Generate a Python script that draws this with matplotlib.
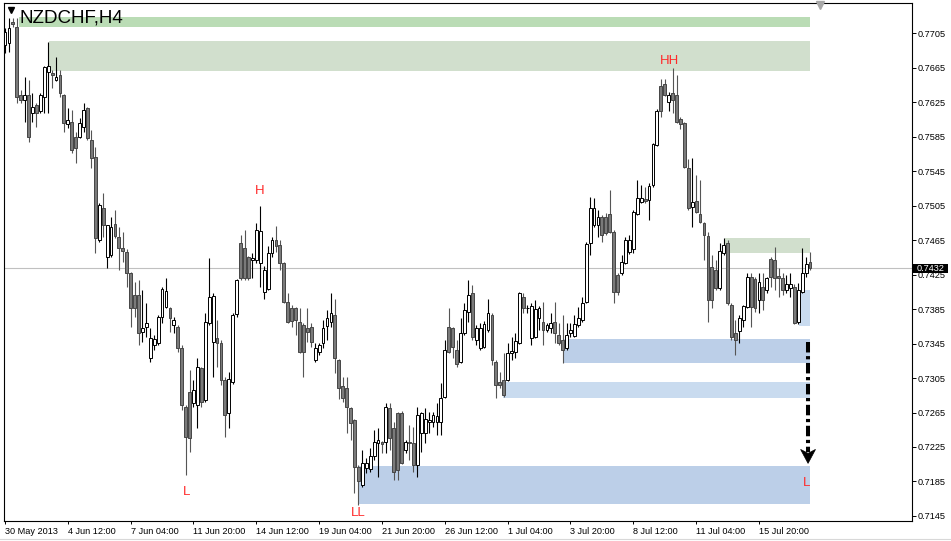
import numpy as np
import matplotlib
matplotlib.use('Agg')
from matplotlib import pyplot as plt
from matplotlib.patches import Rectangle, Polygon
import matplotlib.transforms as mtransforms

# NZDCHF H4 candles (index 0 = 30 May 2013)
opens = [
    0.7691, 0.7694, 0.7718, 0.7712, 0.7633, 0.7627, 0.7633, 0.7612, 0.7622, 0.7614,
    0.7631, 0.7660, 0.7659, 0.7650, 0.7656, 0.7633, 0.7600, 0.7602, 0.7585, 0.7585,
    0.7596, 0.7618, 0.7581, 0.7561, 0.7465, 0.7502, 0.7445, 0.7448, 0.7484, 0.7469,
    0.7456, 0.7451, 0.7427, 0.7401, 0.7401, 0.7358, 0.7364, 0.7328, 0.7343, 0.7346,
    0.7376, 0.7387, 0.7386, 0.7367, 0.7364, 0.7340, 0.7271, 0.7289, 0.7276, 0.7274,
    0.7317, 0.7280, 0.7369, 0.7347, 0.7351, 0.7346, 0.7303, 0.7264, 0.7300, 0.7379,
    0.7462, 0.7456, 0.7445, 0.7442, 0.7442, 0.7438, 0.7405, 0.7408, 0.7450, 0.7465,
    0.7459, 0.7438, 0.7393, 0.7386, 0.7386, 0.7370, 0.7367, 0.7363, 0.7364, 0.7326,
    0.7335, 0.7346, 0.7365, 0.7370, 0.7378, 0.7326, 0.7296, 0.7293, 0.7270, 0.7256,
    0.7202, 0.7181, 0.7201, 0.7200, 0.7214, 0.7230, 0.7231, 0.7231, 0.7270, 0.7247,
    0.7264, 0.7264, 0.7222, 0.7231, 0.7230, 0.7204, 0.7241, 0.7241, 0.7254, 0.7254,
    0.7254, 0.7254, 0.7283, 0.7364, 0.7363, 0.7338, 0.7324, 0.7357, 0.7382, 0.7404,
    0.7349, 0.7340, 0.7341, 0.7361, 0.7378, 0.7324, 0.7300, 0.7303, 0.7303, 0.7334,
    0.7335, 0.7346, 0.7399, 0.7386, 0.7351, 0.7353, 0.7374, 0.7370, 0.7361, 0.7363,
    0.7370, 0.7355, 0.7349, 0.7340, 0.7357, 0.7354, 0.7367, 0.7372, 0.7393, 0.7462,
    0.7482, 0.7482, 0.7492, 0.7492, 0.7495, 0.7474, 0.7424, 0.7427, 0.7438, 0.7451,
    0.7454, 0.7495, 0.7509, 0.7513, 0.7511, 0.7529, 0.7575, 0.7644, 0.7646, 0.7625,
    0.7636, 0.7633, 0.7605, 0.7601, 0.7549, 0.7503, 0.7510, 0.7495, 0.7485, 0.7470,
    0.7434, 0.7430, 0.7409, 0.7450, 0.7462, 0.7390, 0.7357, 0.7360, 0.7372, 0.7387,
    0.7422, 0.7420, 0.7396, 0.7411, 0.7407, 0.7443, 0.7442, 0.7423, 0.7421, 0.7407,
    0.7409, 0.7411, 0.7370, 0.7405, 0.7427, 0.7440,
]
highs = [
    0.7711, 0.7722, 0.7722, 0.7722, 0.7639, 0.7654, 0.7651, 0.7636, 0.7624, 0.7636,
    0.7667, 0.7695, 0.7662, 0.7677, 0.7662, 0.7634, 0.7618, 0.7616, 0.7590, 0.7607,
    0.7624, 0.7619, 0.7593, 0.7573, 0.7508, 0.7520, 0.7482, 0.7492, 0.7500, 0.7480,
    0.7474, 0.7454, 0.7428, 0.7416, 0.7419, 0.7407, 0.7392, 0.7363, 0.7355, 0.7378,
    0.7411, 0.7421, 0.7387, 0.7376, 0.7367, 0.7343, 0.7274, 0.7314, 0.7303, 0.7328,
    0.7318, 0.7380, 0.7444, 0.7404, 0.7372, 0.7349, 0.7306, 0.7312, 0.7380, 0.7420,
    0.7471, 0.7477, 0.7446, 0.7450, 0.7485, 0.7504, 0.7435, 0.7458, 0.7469, 0.7481,
    0.7465, 0.7439, 0.7404, 0.7390, 0.7387, 0.7386, 0.7369, 0.7386, 0.7369, 0.7346,
    0.7346, 0.7372, 0.7384, 0.7404, 0.7397, 0.7327, 0.7306, 0.7306, 0.7271, 0.7258,
    0.7204, 0.7222, 0.7212, 0.7224, 0.7245, 0.7247, 0.7232, 0.7276, 0.7276, 0.7254,
    0.7266, 0.7267, 0.7233, 0.7251, 0.7248, 0.7271, 0.7266, 0.7270, 0.7266, 0.7266,
    0.7276, 0.7299, 0.7349, 0.7386, 0.7364, 0.7349, 0.7375, 0.7392, 0.7419, 0.7413,
    0.7367, 0.7369, 0.7371, 0.7397, 0.7380, 0.7326, 0.7312, 0.7334, 0.7346, 0.7353,
    0.7357, 0.7405, 0.7404, 0.7390, 0.7392, 0.7396, 0.7389, 0.7393, 0.7369, 0.7380,
    0.7393, 0.7369, 0.7378, 0.7369, 0.7369, 0.7378, 0.7387, 0.7399, 0.7463, 0.7515,
    0.7514, 0.7500, 0.7494, 0.7496, 0.7523, 0.7477, 0.7427, 0.7448, 0.7469, 0.7471,
    0.7500, 0.7535, 0.7529, 0.7527, 0.7531, 0.7578, 0.7617, 0.7652, 0.7652, 0.7637,
    0.7664, 0.7656, 0.7608, 0.7602, 0.7559, 0.7560, 0.7540, 0.7535, 0.7486, 0.7474,
    0.7448, 0.7442, 0.7462, 0.7467, 0.7465, 0.7392, 0.7372, 0.7378, 0.7390, 0.7427,
    0.7427, 0.7422, 0.7427, 0.7427, 0.7422, 0.7445, 0.7457, 0.7433, 0.7427, 0.7424,
    0.7427, 0.7414, 0.7415, 0.7456, 0.7445, 0.7451,
]
lows = [
    0.7682, 0.7683, 0.7712, 0.7624, 0.7624, 0.7602, 0.7579, 0.7602, 0.7596, 0.7612,
    0.7612, 0.7612, 0.7641, 0.7649, 0.7631, 0.7590, 0.7595, 0.7566, 0.7554, 0.7583,
    0.7590, 0.7581, 0.7549, 0.7450, 0.7463, 0.7469, 0.7433, 0.7445, 0.7467, 0.7430,
    0.7440, 0.7411, 0.7364, 0.7376, 0.7343, 0.7347, 0.7353, 0.7324, 0.7338, 0.7343,
    0.7369, 0.7386, 0.7358, 0.7357, 0.7335, 0.7268, 0.7193, 0.7219, 0.7271, 0.7247,
    0.7271, 0.7277, 0.7367, 0.7306, 0.7318, 0.7297, 0.7237, 0.7247, 0.7298, 0.7376,
    0.7419, 0.7419, 0.7419, 0.7421, 0.7438, 0.7411, 0.7397, 0.7407, 0.7445, 0.7451,
    0.7430, 0.7392, 0.7369, 0.7364, 0.7355, 0.7334, 0.7306, 0.7347, 0.7341, 0.7324,
    0.7332, 0.7340, 0.7349, 0.7364, 0.7311, 0.7281, 0.7277, 0.7241, 0.7233, 0.7172,
    0.7158, 0.7179, 0.7195, 0.7196, 0.7210, 0.7190, 0.7218, 0.7218, 0.7222, 0.7187,
    0.7187, 0.7205, 0.7218, 0.7210, 0.7196, 0.7190, 0.7219, 0.7230, 0.7241, 0.7248,
    0.7239, 0.7239, 0.7282, 0.7334, 0.7328, 0.7318, 0.7322, 0.7355, 0.7370, 0.7349,
    0.7343, 0.7338, 0.7340, 0.7358, 0.7320, 0.7282, 0.7293, 0.7283, 0.7302, 0.7326,
    0.7328, 0.7345, 0.7380, 0.7380, 0.7343, 0.7351, 0.7361, 0.7343, 0.7358, 0.7357,
    0.7346, 0.7343, 0.7322, 0.7338, 0.7353, 0.7353, 0.7364, 0.7370, 0.7392, 0.7448,
    0.7480, 0.7469, 0.7463, 0.7471, 0.7473, 0.7392, 0.7401, 0.7424, 0.7437, 0.7449,
    0.7450, 0.7494, 0.7508, 0.7508, 0.7488, 0.7527, 0.7574, 0.7608, 0.7632, 0.7614,
    0.7612, 0.7601, 0.7594, 0.7549, 0.7500, 0.7480, 0.7496, 0.7485, 0.7442, 0.7370,
    0.7386, 0.7407, 0.7407, 0.7448, 0.7390, 0.7349, 0.7332, 0.7346, 0.7364, 0.7386,
    0.7364, 0.7382, 0.7380, 0.7384, 0.7404, 0.7411, 0.7407, 0.7399, 0.7401, 0.7404,
    0.7399, 0.7368, 0.7368, 0.7404, 0.7422, 0.7430,
]
closes = [
    0.7706, 0.7711, 0.7716, 0.7631, 0.7627, 0.7633, 0.7585, 0.7619, 0.7612, 0.7633,
    0.7666, 0.7667, 0.7656, 0.7654, 0.7636, 0.7601, 0.7604, 0.7569, 0.7572, 0.7601,
    0.7616, 0.7583, 0.7560, 0.7467, 0.7506, 0.7482, 0.7482, 0.7480, 0.7470, 0.7456,
    0.7452, 0.7427, 0.7386, 0.7386, 0.7357, 0.7363, 0.7369, 0.7351, 0.7350, 0.7376,
    0.7408, 0.7406, 0.7375, 0.7372, 0.7340, 0.7274, 0.7237, 0.7236, 0.7291, 0.7318,
    0.7277, 0.7370, 0.7399, 0.7400, 0.7346, 0.7303, 0.7262, 0.7304, 0.7378, 0.7419,
    0.7421, 0.7421, 0.7421, 0.7444, 0.7477, 0.7475, 0.7430, 0.7450, 0.7465, 0.7458,
    0.7438, 0.7393, 0.7370, 0.7371, 0.7372, 0.7335, 0.7335, 0.7358, 0.7347, 0.7340,
    0.7343, 0.7363, 0.7374, 0.7380, 0.7328, 0.7293, 0.7282, 0.7271, 0.7253, 0.7202,
    0.7185, 0.7207, 0.7207, 0.7214, 0.7231, 0.7233, 0.7229, 0.7271, 0.7236, 0.7196,
    0.7198, 0.7207, 0.7231, 0.7230, 0.7204, 0.7262, 0.7264, 0.7258, 0.7256, 0.7262,
    0.7261, 0.7282, 0.7338, 0.7335, 0.7341, 0.7321, 0.7357, 0.7384, 0.7401, 0.7353,
    0.7363, 0.7363, 0.7368, 0.7380, 0.7326, 0.7297, 0.7297, 0.7285, 0.7334, 0.7336,
    0.7348, 0.7403, 0.7386, 0.7386, 0.7389, 0.7385, 0.7386, 0.7361, 0.7367, 0.7369,
    0.7357, 0.7346, 0.7338, 0.7355, 0.7361, 0.7368, 0.7374, 0.7392, 0.7460, 0.7502,
    0.7502, 0.7492, 0.7471, 0.7473, 0.7474, 0.7405, 0.7405, 0.7440, 0.7465, 0.7465,
    0.7497, 0.7514, 0.7514, 0.7510, 0.7528, 0.7576, 0.7615, 0.7614, 0.7633, 0.7633,
    0.7627, 0.7602, 0.7600, 0.7550, 0.7502, 0.7509, 0.7497, 0.7486, 0.7471, 0.7396,
    0.7396, 0.7409, 0.7452, 0.7459, 0.7392, 0.7353, 0.7349, 0.7374, 0.7389, 0.7422,
    0.7387, 0.7386, 0.7416, 0.7396, 0.7421, 0.7422, 0.7421, 0.7421, 0.7407, 0.7414,
    0.7414, 0.7369, 0.7407, 0.7427, 0.7437, 0.7432,
]

time_labels = ['30 May 2013', '4 Jun 12:00', '7 Jun 04:00', '11 Jun 20:00',
               '14 Jun 12:00', '19 Jun 04:00', '21 Jun 20:00', '26 Jun 12:00',
               '1 Jul 04:00', '3 Jul 20:00', '8 Jul 12:00', '11 Jul 04:00',
               '15 Jul 20:00']
bars_per_label = 16

price_ticks = [0.7145, 0.7185, 0.7225, 0.7265, 0.7305, 0.7345, 0.7385, 0.7425,
               0.7465, 0.7505, 0.7545, 0.7585, 0.7625, 0.7665, 0.7705]

# supply (green) / demand (blue) zones: start bar, price range
zone_start = [3.6, 11.2, 183.3, 89.9, 142.1, 126.8, 202.2]
zone_end = 205.1
zone_low = [0.7712, 0.7661, 0.7450, 0.7159, 0.7322, 0.7282, 0.7365]
zone_high = [0.7724, 0.7696, 0.7467, 0.7203, 0.7350, 0.7300, 0.7407]
zone_colors = ['#badcb5', '#d1dfcd', '#d1dfcd', '#bccfe8', '#bccfe8',
               '#c9dbef', '#c9dbef']

swing_text = ['HH', 'H', 'L', 'LL', 'L']
swing_bar = [169.1, 64.9, 46.3, 89.9, 204.0]
swing_price = [0.76725, 0.7522, 0.7173, 0.71485, 0.7183]

last_price = 0.7432
arrow_bar = 204.5
arrow_from = 0.7347
arrow_to = 0.7206

plt.rcParams['font.family'] = ['Liberation Sans', 'DejaVu Sans']

W, H = 951, 541
fig = plt.figure(figsize=(W / 100, H / 100), dpi=100)
ax = fig.add_axes([4 / W, 20 / H, 908 / W, 518 / H])

o = np.array(opens)
hi = np.array(highs)
lo = np.array(lows)
c = np.array(closes)
x = np.arange(len(o))
up = c >= o

# zones sit behind everything
for x0, zl, zh, col in zip(zone_start, zone_low, zone_high, zone_colors):
    ax.add_patch(Rectangle((x0, zl), zone_end - x0, zh - zl, facecolor=col,
                           edgecolor='none', zorder=1))

ax.axhline(last_price, color='#c0c0c0', lw=0.8, zorder=1.5)

# candles: wicks first, bodies on top
ax.vlines(x[up], lo[up], hi[up], color='black', lw=0.8, zorder=3)
ax.vlines(x[~up], lo[~up], hi[~up], color='#555555', lw=0.8, zorder=3)
ax.bar(x[up], c[up] - o[up], bottom=o[up], width=0.72, color='white',
       edgecolor='black', linewidth=0.7, zorder=4)
ax.bar(x[~up], o[~up] - c[~up], bottom=c[~up], width=0.72, color='#7a7a7a',
       edgecolor='#454545', linewidth=0.7, zorder=4)

for txt, bx, py in zip(swing_text, swing_bar, swing_price):
    ax.text(bx, py, txt, color='#ff2a2a', fontsize=9.5, ha='center',
            va='center', zorder=6)

# projected move: dash-dot shaft plus filled head
head_len = 0.00162
ax.plot([arrow_bar, arrow_bar], [arrow_from, arrow_to + head_len * 0.8],
        color='black', lw=2.9, linestyle=(0, (2.6, 0.9, 0.8, 0.9)),
        solid_capstyle='butt', dash_capstyle='butt', zorder=6)
ax.add_patch(Polygon([(arrow_bar - 1.9, arrow_to + head_len),
                      (arrow_bar, arrow_to + head_len * 0.72),
                      (arrow_bar + 1.9, arrow_to + head_len),
                      (arrow_bar, arrow_to)],
                     closed=True, facecolor='black', edgecolor='black',
                     lw=0.5, zorder=6))

ax.set_xlim(-0.255, 230.97)
ax.set_ylim(0.71392, 0.77398)

ax.set_xticks(np.arange(len(time_labels)) * bars_per_label)
ax.set_xticklabels(time_labels, ha='left')
ax.tick_params(axis='x', direction='out', length=2.2, width=0.7,
               labelsize=6.6, pad=2.0, colors='black')
ax.yaxis.tick_right()
ax.set_yticks(price_ticks)
ax.set_yticklabels([f'{p:.4f}' for p in price_ticks])
ax.tick_params(axis='y', direction='out', length=2.9, width=0.7,
               labelsize=6.6, pad=1.0, colors='black')
for sp in ax.spines.values():
    sp.set_color('black')
    sp.set_linewidth(0.8)

# current price tag on the price scale
tag = mtransforms.blended_transform_factory(ax.transAxes, ax.transData)
ax.add_patch(Rectangle((1.0005, last_price - 0.00052), 0.0395, 0.00104,
                       transform=tag, facecolor='black', edgecolor='none',
                       clip_on=False, zorder=7))
ax.text(1.0055, last_price, f'{last_price:.4f}', transform=tag, color='white',
        fontsize=6.6, ha='left', va='center', zorder=8, clip_on=False)

# chart header and window markers
ax.text(0.0176, 0.971, 'NZDCHF,H4', transform=ax.transAxes, fontsize=13.5,
        ha='left', va='center', color='black', zorder=8)
ax.plot([0.0077], [0.9865], marker='v', markersize=4, color='black',
        transform=ax.transAxes, clip_on=False, zorder=8)
ax.plot([0.8987], [0.9965], marker='v', markersize=6, color='#a8a8a8',
        transform=ax.transAxes, clip_on=False, zorder=8)

fig.add_artist(plt.Line2D([0, 1], [2.5 / H, 2.5 / H], color='#d8d8d8', lw=0.8,
                          transform=fig.transFigure))

fig.savefig('out.png', dpi=100)
